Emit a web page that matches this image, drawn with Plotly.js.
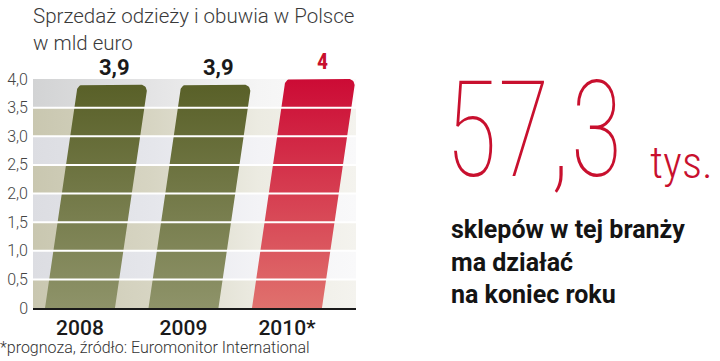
<!DOCTYPE html>
<html><head><meta charset="utf-8">
<script src="https://cdn.plot.ly/plotly-3.0.1.min.js"></script>
<style>html,body{margin:0;padding:0;background:#fff}#chart{width:720px;height:361px}</style>
</head><body><div id="chart"></div>
<script>
// ---- data ----
const years = ['2008', '2009', '2010*'];
const values = [3.9, 3.9, 4.0];
const valueLabels = ['3,9', '3,9', '4'];
const yTickVals = [0, 0.5, 1, 1.5, 2, 2.5, 3, 3.5, 4];
const yTickText = ['0', '0,5', '1,0', '1,5', '2,0', '2,5', '3,0', '3,5', '4,0'];
const titleText = 'Sprzedaż odzieży i obuwia w Polsce<br>w mld euro';
const bigNumber = '57,3';
const bigUnit = 'tys.';
const captionLines = ['sklepów w tej branży', 'ma działać', 'na koniec roku'];
const footnote = '*prognoza, źródło: Euromonitor International';

// ---- styling / geometry ----
const W = 720, H = 361;
const M = {l: 33, r: 364, t: 79, b: 53};
const plotW = W - M.l - M.r, plotH = H - M.t - M.b;
const xRange = [-0.454, 2.667];
const yRange = [0, 4];
const pxX = plotW / (xRange[1] - xRange[0]);
const pxY = plotH / (yRange[1] - yRange[0]);
const barW = 0.676, slant = 0.079, radPx = 6;
const rx = radPx / pxX, ry = radPx / pxY;
const RED = '#c8102e';
const barColors = [
  ['#8e9369', '#596028'],
  ['#8e9369', '#596028'],
  ['#e0716d', '#cc0b35']
];
const bandColors = {
  beige: ['#c9c7b0', '#d7d5c3', '#ecebe2', '#f4f3ee'],
  blue: ['#dcdde2', '#e5e6eb', '#f3f3f6', '#f9f9fa'],
  grey: ['#d2d3d4', '#e4e4e5', '#f5f5f5', '#fcfcfc']
};
const FONT = 'Roboto, "Noto Sans", sans-serif';
const COND = '"Roboto Condensed", "Liberation Sans Narrow", "DejaVu Sans Condensed", Roboto, sans-serif';
const BIG_SQUEEZE = 0.81;

const traces = [];
// background bands
for (let k = 0; k < yTickVals.length - 1; k++) {
  const y0 = yTickVals[k], y1 = yTickVals[k + 1];
  const c = k === yTickVals.length - 2 ? bandColors.grey : (k % 2 === 0 ? bandColors.beige : bandColors.blue);
  traces.push({
    type: 'scatter', mode: 'lines', hoverinfo: 'skip', showlegend: false,
    x: [xRange[0], xRange[1], xRange[1], xRange[0], xRange[0]],
    y: [y0, y0, y1, y1, y0],
    fill: 'toself', line: {width: 0},
    fillgradient: {type: 'horizontal', start: xRange[0], stop: xRange[1],
      colorscale: [[0, c[0]], [0.37, c[1]], [0.7, c[2]], [1, c[3]]]}
  });
}
// slanted bars with rounded tops
values.forEach((v, i) => {
  const xl0 = i - barW / 2, xr0 = i + barW / 2;
  const xl = y => xl0 + slant * y, xr = y => xr0 + slant * y;
  const xs = [xl0, xr0], ys = [0, 0];
  const n = 8;
  for (let j = 0; j <= n; j++) {
    const a = (Math.PI / 2) * j / n;
    xs.push(xr(v) - rx + rx * Math.cos(a)); ys.push(v - ry + ry * Math.sin(a));
  }
  for (let j = 0; j <= n; j++) {
    const a = Math.PI / 2 + (Math.PI / 2) * j / n;
    xs.push(xl(v) + rx + rx * Math.cos(a)); ys.push(v - ry + ry * Math.sin(a));
  }
  xs.push(xl0); ys.push(0);
  traces.push({
    type: 'scatter', mode: 'lines', hoverinfo: 'skip', showlegend: false,
    x: xs, y: ys, fill: 'toself', line: {width: 0},
    fillgradient: {type: 'vertical', start: 0, stop: v,
      colorscale: [[0, barColors[i][0]], [1, barColors[i][1]]]}
  });
});

const shapes = yTickVals.filter(t => t > yRange[0] && t < yRange[1]).map(t => ({
  type: 'line', xref: 'paper', x0: 0, x1: 1, yref: 'y', y0: t, y1: t,
  line: {color: '#ffffff', width: 2}, layer: 'above'
}));

const px2paperX = px => (px - M.l) / plotW;
const px2paperY = py => (H - M.b - py) / plotH;

const annotations = [];
values.forEach((v, i) => {
  annotations.push({
    x: i + slant * v, y: v, xref: 'x', yref: 'y', text: valueLabels[i], showarrow: false,
    xanchor: 'center', yanchor: 'bottom', yshift: 3, xshift: 3,
    font: {family: i === values.length - 1 ? COND : FONT, size: 22, weight: 700,
      color: i === values.length - 1 ? RED : '#1a1a1a'}
  });
});
annotations.push({
  xref: 'paper', yref: 'paper', x: px2paperX(443), y: px2paperY(130), text: bigNumber,
  showarrow: false, xanchor: 'left', yanchor: 'middle',
  font: {family: COND, size: 134, weight: 100, color: RED}
});
annotations.push({
  xref: 'paper', yref: 'paper', x: px2paperX(648), y: px2paperY(162), text: bigUnit,
  showarrow: false, xanchor: 'left', yanchor: 'middle',
  font: {family: COND, size: 45, weight: 300, color: RED}
});
const capY = [229, 262, 294];
captionLines.forEach((t, k) => annotations.push({
  xref: 'paper', yref: 'paper', x: px2paperX(449), y: px2paperY(capY[k]), text: t,
  showarrow: false, xanchor: 'left', yanchor: 'middle',
  font: {family: FONT, size: 25, weight: 700, color: '#141414'}
}));
annotations.push({
  xref: 'paper', yref: 'paper', x: px2paperX(-2), y: px2paperY(347), text: footnote,
  showarrow: false, xanchor: 'left', yanchor: 'middle',
  font: {family: FONT, size: 16, weight: 300, color: '#333333'}
});

const layout = {
  width: W, height: H, margin: M,
  paper_bgcolor: '#ffffff', plot_bgcolor: '#ffffff',
  showlegend: false,
  title: {text: titleText, x: 33 / W, xanchor: 'left', xref: 'container',
    y: 1 - 23 / H, yanchor: 'top', yref: 'container', pad: {t: 0, l: 0},
    font: {family: FONT, size: 20.5, weight: 300, color: '#3a3a3a'}},
  xaxis: {range: xRange, tickvals: [0, 1, 2], ticktext: years, ticks: '', showgrid: false,
    zeroline: false, showline: true, linecolor: '#1a1a1a', linewidth: 2, fixedrange: true,
    tickfont: {family: FONT, size: 21, weight: 500, color: '#1a1a1a'}},
  yaxis: {range: yRange, tickvals: yTickVals, ticktext: yTickText, ticks: '', showgrid: false,
    zeroline: false, showline: false, fixedrange: true, ticklabelstandoff: 4,
    tickfont: {family: FONT, size: 16, weight: 300, color: '#444444'}},
  shapes: shapes, annotations: annotations
};

Plotly.newPlot('chart', traces, layout, {staticPlot: true, displayModeBar: false}).then(gd => {
  // narrow the big headline number, like the condensed display face of the original
  gd.querySelectorAll('text.annotation-text').forEach(t => {
    if (t.textContent === bigNumber) {
      t.style.transformBox = 'fill-box';
      t.style.transformOrigin = '0% 50%';
      t.style.transform = 'scaleX(' + BIG_SQUEEZE + ')';
    }
  });
});
</script></body></html>
